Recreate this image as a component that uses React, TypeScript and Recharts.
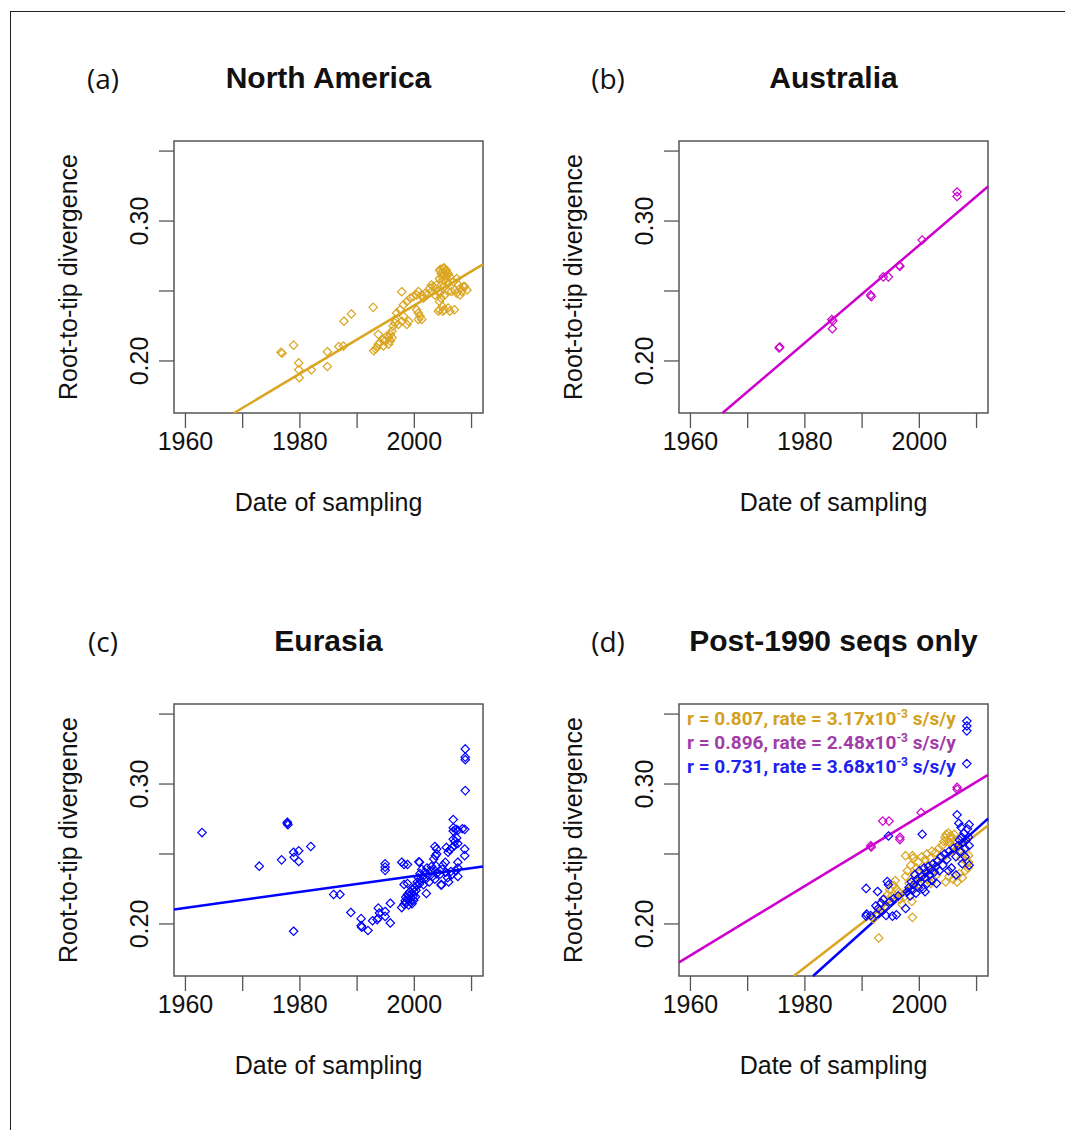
import { ScatterChart, Scatter, XAxis, YAxis, ReferenceLine, ReferenceArea } from 'recharts';

const GOLD = '#DAA520';
const MAGENTA = '#CD00CD';
const BLUE = '#0000FF';

const xTicks = [1960, 1970, 1980, 1990, 2000, 2010];
const xLabels = [1960, 1980, 2000];
const yTicks = [0.2, 0.25, 0.3, 0.35];
const yLabels = [0.2, 0.3];
const xDomain: [number, number] = [1958, 2012];
const yDomain: [number, number] = [0.1628, 0.3572];

// [year, root-to-tip divergence]
const northAmerica: [number, number][] = [
  [1976.7, 0.2062], [1976.9, 0.2055], [1978.9, 0.2113], [1979.8, 0.1986], [1979.8, 0.1937], [1979.9, 0.188],
  [1982.0, 0.1937], [1984.8, 0.2066], [1984.8, 0.196], [1986.8, 0.2103], [1987.6, 0.2106], [1987.7, 0.2284],
  [1989.0, 0.2336], [1992.8, 0.2383], [1992.9, 0.2073], [1993.2, 0.2085], [1993.45, 0.2096], [1993.7, 0.212],
  [1993.7, 0.219], [1994.0, 0.2131], [1994.6, 0.2108], [1994.6, 0.2155], [1994.9, 0.2143], [1995.2, 0.2178],
  [1995.5, 0.2167], [1995.5, 0.212], [1995.8, 0.219], [1995.8, 0.2143], [1996.1, 0.2214], [1996.1, 0.2167],
  [1996.3, 0.2249], [1996.6, 0.2272], [1996.6, 0.2296], [1996.9, 0.2343], [1997.2, 0.2261], [1997.5, 0.2366],
  [1997.8, 0.2284], [1997.8, 0.2495], [1998.1, 0.2402], [1998.1, 0.2319], [1998.7, 0.2425], [1998.7, 0.2261],
  [1999.0, 0.2284], [1999.3, 0.2449], [1999.8, 0.246], [2000.4, 0.2472], [2000.4, 0.2366], [2000.7, 0.2496],
  [2000.7, 0.2296], [2000.7, 0.2343], [2001.0, 0.2319], [2001.3, 0.2472], [2001.3, 0.2296], [2001.6, 0.2449],
  [2001.9, 0.2484], [2002.2, 0.2472], [2002.7, 0.2519], [2003.0, 0.2496], [2003.0, 0.2542], [2003.3, 0.2531],
  [2003.6, 0.2472], [2003.9, 0.2543], [2004.2, 0.2496], [2004.4, 0.2648], [2004.4, 0.2589], [2004.4, 0.2484],
  [2004.4, 0.2425], [2004.4, 0.2366], [2004.2, 0.2355], [2004.7, 0.2625], [2004.7, 0.2543], [2004.7, 0.2449],
  [2004.9, 0.239], [2005.0, 0.266], [2005.0, 0.2578], [2005.0, 0.2355], [2005.2, 0.2366], [2005.3, 0.2613],
  [2005.3, 0.2531], [2005.3, 0.2472], [2005.6, 0.2648], [2005.6, 0.2589], [2005.9, 0.2625], [2005.9, 0.2554],
  [2005.9, 0.2496], [2005.9, 0.2378], [2006.2, 0.2601], [2006.2, 0.2355], [2006.5, 0.2496], [2006.8, 0.2566],
  [2007.0, 0.2366], [2007.1, 0.2507], [2007.4, 0.2589], [2007.4, 0.2484], [2007.7, 0.2543], [2008.0, 0.2519],
  [2008.0, 0.2472], [2008.3, 0.2496], [2008.6, 0.2531], [2008.8, 0.2531], [2009.2, 0.2507],
  [2004.6, 0.2655], [2005.2, 0.2665], [2005.4, 0.2640], [2004.9, 0.2600], [2005.7, 0.2610],
];

const australia: [number, number][] = [
  [1975.5, 0.2093], [1975.6, 0.21], [1984.7, 0.2296], [1984.9, 0.2285], [1984.8, 0.223], [1991.5, 0.2472],
  [1991.6, 0.246], [1993.7, 0.2601], [1994.6, 0.2601], [1996.5, 0.2683], [1996.6, 0.2676], [2000.5, 0.2864],
  [2006.6, 0.3207], [2006.6, 0.3176],
];

const eurasia: [number, number][] = [
  [1962.9, 0.2653], [1972.9, 0.2413], [1976.8, 0.2458], [1977.8, 0.2718], [1977.9, 0.2709], [1977.8, 0.2727],
  [1978.9, 0.2512], [1979.0, 0.2477], [1978.9, 0.1948], [1979.8, 0.2523], [1979.8, 0.2446], [1981.9, 0.2554],
  [1985.9, 0.2211], [1987.0, 0.2211], [1988.9, 0.2082], [1990.7, 0.2038], [1990.7, 0.1988], [1990.8, 0.1977],
  [1991.9, 0.1953], [1992.7, 0.2023], [1993.7, 0.2113], [1993.9, 0.2078], [1993.7, 0.2042], [1993.5, 0.2031],
  [1994.9, 0.2089], [1994.9, 0.2054], [1995.8, 0.2148], [1995.8, 0.2007], [1994.9, 0.243], [1994.9, 0.2406],
  [1994.9, 0.2383], [1997.8, 0.2441], [1998.8, 0.2425], [1997.8, 0.2117], [1998.8, 0.2289], [2000.9, 0.2441],
  [1998.2, 0.214], [1998.4, 0.2165], [1998.5, 0.219], [1998.6, 0.215], [1998.8, 0.221], [1998.9, 0.2175],
  [1999.0, 0.2135], [1999.1, 0.22], [1999.2, 0.223], [1999.3, 0.216], [1999.4, 0.2185], [1999.5, 0.2215],
  [1999.6, 0.2145], [1999.7, 0.225], [1999.8, 0.22], [1999.9, 0.217], [2000.0, 0.223], [2000.1, 0.226],
  [2000.2, 0.2195], [2000.3, 0.224], [2000.4, 0.2275], [2000.5, 0.23], [2000.7, 0.233], [2000.9, 0.2285],
  [2001.0, 0.236], [2001.2, 0.231], [2001.3, 0.239], [2001.5, 0.234], [2001.6, 0.228], [2001.8, 0.237],
  [2002.0, 0.232], [2002.1, 0.2218], [2002.2, 0.24], [2002.4, 0.235], [2002.6, 0.23], [2002.8, 0.238],
  [2003.0, 0.241], [2003.2, 0.234], [2003.4, 0.239], [2003.6, 0.232], [2003.8, 0.2415], [2003.9, 0.236],
  [2003.6, 0.2554], [2003.9, 0.2535], [2003.9, 0.25], [2003.7, 0.2488], [2003.4, 0.2465], [2004.7, 0.2277],
  [2004.7, 0.2282], [2005.6, 0.2547], [2006.2, 0.253], [2005.9, 0.2512], [2006.8, 0.2746], [2006.8, 0.2664],
  [2006.8, 0.2688], [2007.3, 0.2676], [2007.6, 0.267], [2008.4, 0.268], [2006.8, 0.2606], [2007.1, 0.259],
  [2007.4, 0.2615], [2007.6, 0.2575], [2007.0, 0.256], [2006.6, 0.2545], [2008.8, 0.2676], [2008.8, 0.2535],
  [2008.8, 0.2488], [2007.6, 0.2441], [2007.6, 0.24], [2007.6, 0.234], [2008.9, 0.3251], [2008.9, 0.3192],
  [2008.9, 0.3174], [2008.9, 0.2953], [1998.2, 0.2425], [2000.8, 0.2444], [1998.2, 0.2282], [2005.5, 0.237],
  [2006.4, 0.2375], [2007.3, 0.238], [2006.5, 0.235], [2005.8, 0.233], [2004.9, 0.239], [2005.0, 0.242],
  [2005.4, 0.244], [2004.5, 0.2355], [2006.0, 0.23],
];

const naPost1990: [number, number][] = [
  [1992.9, 0.19], [1991.7, 0.205], [1992.0, 0.2035], [1993.0, 0.21], [1993.4, 0.215], [1993.8, 0.218],
  [1994.1, 0.2125], [1994.5, 0.221], [1994.8, 0.2245], [1995.2, 0.22], [1995.5, 0.2275], [1995.8, 0.231],
  [1996.0, 0.225], [1996.4, 0.223], [1996.6, 0.2175], [1997.0, 0.214], [1997.3, 0.219], [1997.6, 0.234],
  [1997.6, 0.2488], [1997.9, 0.238], [1998.2, 0.229], [1998.5, 0.242], [1998.8, 0.2047], [1998.7, 0.216],
  [1998.8, 0.2488], [1998.9, 0.247], [1999.0, 0.225], [1999.2, 0.236], [1999.5, 0.24], [1999.8, 0.244],
  [2000.0, 0.228], [2000.1, 0.233], [2000.4, 0.248], [2000.7, 0.239], [2001.0, 0.246], [2001.3, 0.25],
  [2001.5, 0.232], [2001.6, 0.242], [2001.9, 0.247], [2002.0, 0.229], [2002.2, 0.252], [2002.5, 0.238],
  [2002.8, 0.251], [2003.0, 0.235], [2003.1, 0.245], [2003.4, 0.254], [2003.7, 0.248], [2004.0, 0.256],
  [2004.3, 0.259], [2004.5, 0.262], [2004.6, 0.23], [2004.7, 0.264], [2004.9, 0.26], [2005.1, 0.265],
  [2005.2, 0.234], [2005.3, 0.258], [2005.5, 0.263], [2005.7, 0.261], [2005.9, 0.256], [2005.9, 0.232],
  [2006.1, 0.264], [2006.3, 0.259], [2006.6, 0.254], [2006.6, 0.23], [2007.0, 0.236], [2007.3, 0.247],
  [2007.5, 0.233], [2007.8, 0.25], [2008.0, 0.238], [2008.3, 0.244], [2008.5, 0.24], [2008.6, 0.2441],
  [2008.6, 0.249],
];

const ausPost1990: [number, number][] = [
  [1991.5, 0.2559], [1991.6, 0.255], [1993.6, 0.2735], [1994.7, 0.2735], [1996.6, 0.262], [1996.6, 0.2603],
  [2000.3, 0.2796], [2006.6, 0.2977], [2006.6, 0.2962],
];

const euPost1990: [number, number][] = [
  [2008.3, 0.345], [2008.3, 0.3415], [2008.3, 0.338], [2008.3, 0.3146], [1994.6, 0.2629], [2000.5, 0.2641],
  [2006.6, 0.278], [1990.7, 0.2254], [1992.7, 0.2232], [1994.4, 0.2303], [1994.6, 0.228], [1990.7, 0.2056],
  [1990.8, 0.207], [1991.5, 0.206], [1992.5, 0.2071], [1994.2, 0.206], [1995.3, 0.2056], [1996.0, 0.2065],
  [1992.4, 0.213], [1992.8, 0.211], [1993.3, 0.215], [1993.7, 0.2175], [1994.0, 0.212], [1994.9, 0.216],
  [1995.5, 0.218], [1996.3, 0.22], [1997.6, 0.211], [1997.9, 0.223], [1998.2, 0.226], [1998.4, 0.22],
  [1998.6, 0.23], [1998.8, 0.224], [1999.0, 0.228], [1999.2, 0.235], [1999.4, 0.222], [1999.6, 0.232],
  [1999.8, 0.226], [2000.0, 0.238], [2000.2, 0.23], [2000.4, 0.234], [2000.6, 0.225], [2000.8, 0.24],
  [2001.0, 0.233], [2001.0, 0.223], [2001.2, 0.237], [2001.4, 0.229], [2001.6, 0.241], [2001.8, 0.235],
  [2002.0, 0.239], [2002.2, 0.231], [2002.4, 0.243], [2002.6, 0.237], [2002.9, 0.241], [2003.0, 0.229],
  [2003.2, 0.245], [2003.5, 0.238], [2003.8, 0.248], [2004.1, 0.242], [2004.4, 0.25], [2004.8, 0.246],
  [2005.1, 0.238], [2005.2, 0.252], [2005.6, 0.24], [2006.0, 0.254], [2006.4, 0.248], [2006.4, 0.235],
  [2006.8, 0.256], [2006.9, 0.272], [2007.0, 0.26], [2007.2, 0.252], [2007.3, 0.269], [2007.4, 0.262],
  [2007.5, 0.243], [2007.6, 0.258], [2007.8, 0.265], [2008.0, 0.254], [2008.0, 0.248], [2008.2, 0.26],
  [2008.4, 0.268], [2008.6, 0.262], [2008.7, 0.256], [2008.7, 0.271], [2008.7, 0.242],
];

// regression lines: value at 2012 and slope per year
const naFit = [0.269, 0.00244];
const ausFit = [0.3247, 0.00349];
const euFit = [0.2411, 0.00057];
const naPostFit = [0.2704, 0.00317];
const ausPostFit = [0.3065, 0.00248];
const euPostFit = [0.2753, 0.00368];

const legendRows = [
  { color: '#D4A020', r: '0.807', rate: '3.17' },
  { color: '#A23CA8', r: '0.896', rate: '2.48' },
  { color: '#2020F0', r: '0.731', rate: '3.68' },
];

const ARIAL = '"Liberation Sans", Arial, sans-serif';
const CHART_W = 520;
const CHART_H = 560;

function toPoints(rows: [number, number][]) {
  return rows.map(([x, y]) => ({ x, y }));
}

function fitSegment([v2012, slope]: number[]) {
  const at = (x: number) => v2012 + slope * (x - 2012);
  const xAt = (y: number) => 2012 + (y - v2012) / slope;
  const xa = Math.max(xDomain[0], xAt(yDomain[0]));
  const xb = Math.min(xDomain[1], xAt(yDomain[1]));
  return [{ x: xa, y: at(xa) }, { x: xb, y: at(xb) }];
}

function diamond(color: string) {
  return (props: any) => {
    const { cx, cy } = props;
    const r = 4.2;
    return (
      <path
        d={`M${cx},${cy - r}L${cx + r},${cy}L${cx},${cy + r}L${cx - r},${cy}Z`}
        fill="none"
        stroke={color}
        strokeWidth={1.2}
      />
    );
  };
}

function YTick({ x, y, payload }: any) {
  const show = yLabels.some((v) => Math.abs(v - payload.value) < 1e-9);
  if (!show) return null;
  return (
    <text
      x={x}
      y={y}
      dy={-11}
      transform={`rotate(-90 ${x} ${y})`}
      textAnchor="middle"
      fontSize={25}
      fontFamily={ARIAL}
      fill="#111"
    >
      {payload.value.toFixed(2)}
    </text>
  );
}

type Series = { rows: [number, number][]; color: string; fit: number[] };

function Panel({ left, top, tag, title, series, legend }: {
  left: number; top: number; tag: string; title: string; series: Series[]; legend?: boolean;
}) {
  return (
    <div style={{ position: 'absolute', left, top, width: CHART_W, height: CHART_H }}>
      <ScatterChart width={CHART_W} height={CHART_H} margin={{ top: 141, right: 37, bottom: 37, left: 54 }}>
        <XAxis
          type="number"
          dataKey="x"
          domain={xDomain}
          ticks={xTicks}
          interval={0}
          allowDataOverflow
          axisLine={false}
          height={110}
          tickSize={15}
          tickMargin={4}
          tickLine={{ stroke: '#555', strokeWidth: 1.3 }}
          tick={{ fontSize: 25, fontFamily: ARIAL, fill: '#111' }}
          tickFormatter={(v: number) => (xLabels.includes(v) ? String(v) : '')}
        />
        <YAxis
          type="number"
          dataKey="y"
          domain={yDomain}
          ticks={yTicks}
          interval={0}
          allowDataOverflow
          axisLine={false}
          width={120}
          tickSize={15}
          tickMargin={0}
          tickLine={{ stroke: '#555', strokeWidth: 1.3 }}
          tick={<YTick />}
        />
        <ReferenceArea
          x1={xDomain[0]}
          x2={xDomain[1]}
          y1={yDomain[0]}
          y2={yDomain[1]}
          fill="none"
          stroke="#555"
          strokeWidth={1.5}
          ifOverflow="visible"
        />
        {series.map((s, i) => (
          <Scatter
            key={'s' + i}
            data={toPoints(s.rows)}
            shape={diamond(s.color)}
            isAnimationActive={false}
          />
        ))}
        {series.map((s, i) => (
          <ReferenceLine
            key={'l' + i}
            segment={fitSegment(s.fit)}
            stroke={s.color}
            strokeWidth={2.5}
            ifOverflow="visible"
          />
        ))}
      </ScatterChart>

      <div style={{ position: 'absolute', left: 103, top: 78, transform: 'translate(-50%, -50%)', fontFamily: '"Open Sans", sans-serif', fontSize: 28, lineHeight: 1, color: '#111' }}>
        {tag}
      </div>
      <div style={{ position: 'absolute', left: 328.5, top: 78, transform: 'translate(-50%, -50%)', fontFamily: ARIAL, fontWeight: 'bold', fontSize: 30, lineHeight: 1, whiteSpace: 'nowrap', color: '#111' }}>
        {title}
      </div>
      <div style={{ position: 'absolute', left: 68, top: 277, transform: 'translate(-50%, -50%) rotate(-90deg)', fontFamily: ARIAL, fontSize: 25, lineHeight: 1, whiteSpace: 'nowrap', color: '#111' }}>
        Root-to-tip divergence
      </div>
      <div style={{ position: 'absolute', left: 328.5, top: 502, transform: 'translate(-50%, -50%)', fontFamily: ARIAL, fontSize: 25, lineHeight: 1, whiteSpace: 'nowrap', color: '#111' }}>
        Date of sampling
      </div>

      {legend && (
        <div style={{ position: 'absolute', left: 182, top: 144, fontFamily: 'Roboto, sans-serif', fontWeight: 'bold', fontSize: 19, lineHeight: '24px', whiteSpace: 'nowrap' }}>
          {legendRows.map((row) => (
            <div key={row.r} style={{ color: row.color }}>
              r = {row.r}, rate = {row.rate}x10<sup style={{ fontSize: 12, lineHeight: 0 }}>-3</sup> s/s/y
            </div>
          ))}
        </div>
      )}
    </div>
  );
}

export default function App() {
  return (
    <div style={{ position: 'absolute', left: 0, top: 0, width: 1065, height: 1130, background: '#fff', overflow: 'hidden' }}>
      <div style={{ position: 'absolute', left: 10, top: 11, width: 1060, height: 1125, borderLeft: '1.5px solid #222', borderTop: '1.5px solid #222' }} />
      <Panel left={0} top={0} tag="(a)" title="North America" series={[{ rows: northAmerica, color: GOLD, fit: naFit }]} />
      <Panel left={505} top={0} tag="(b)" title="Australia" series={[{ rows: australia, color: MAGENTA, fit: ausFit }]} />
      <Panel left={0} top={563} tag="(c)" title="Eurasia" series={[{ rows: eurasia, color: BLUE, fit: euFit }]} />
      <Panel
        left={505}
        top={563}
        tag="(d)"
        title="Post-1990 seqs only"
        legend
        series={[
          { rows: naPost1990, color: GOLD, fit: naPostFit },
          { rows: ausPost1990, color: MAGENTA, fit: ausPostFit },
          { rows: euPost1990, color: BLUE, fit: euPostFit },
        ]}
      />
    </div>
  );
}
